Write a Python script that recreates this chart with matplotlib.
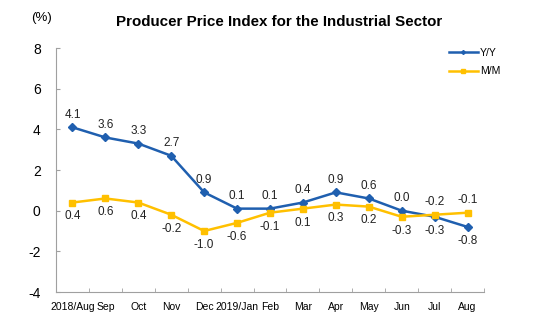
import matplotlib
matplotlib.use("Agg")
import matplotlib.pyplot as plt
import numpy as np

plt.rcParams['font.family'] = ['Liberation Sans', 'DejaVu Sans']
plt.rcParams['axes.unicode_minus'] = False

categories = ["2018/Aug", "Sep", "Oct", "Nov", "Dec", "2019/Jan", "Feb", "Mar",
              "Apr", "May", "Jun", "Jul", "Aug"]
yy = [4.1, 3.6, 3.3, 2.7, 0.9, 0.1, 0.1, 0.4, 0.9, 0.6, 0.0, -0.3, -0.8]
mm = [0.4, 0.6, 0.4, -0.2, -1.0, -0.6, -0.1, 0.1, 0.3, 0.2, -0.3, -0.2, -0.1]
yy_above = [True] * 11 + [False, False]
mm_above = [False] * 11 + [True, True]

blue = "#1F5FAF"
yellow = "#FFC000"

fig = plt.figure(figsize=(5.5, 3.32), dpi=100)
ax = fig.add_axes([56/550, 40/332, 428/550, 244/332])
x = np.arange(len(categories))
ax.plot(x, yy, color=blue, lw=1.8, marker='D', ms=4, label='Y/Y')
ax.plot(x, mm, color=yellow, lw=1.8, marker='s', ms=4.5, label='M/M')

for xi, v, up in zip(x, yy, yy_above):
    ax.annotate(f"{v:.1f}", (xi, v), xytext=(0, 9 if up else -10), textcoords='offset points',
                ha='center', va='center', fontsize=8.5, color='#222222')
for xi, v, up in zip(x, mm, mm_above):
    ax.annotate(f"{v:.1f}", (xi, v), xytext=(0, 9 if up else -10), textcoords='offset points',
                ha='center', va='center', fontsize=8.5, color='#222222')

ax.set_xlim(-0.5, len(categories) - 0.5)
ax.set_ylim(-4, 8)
ax.set_yticks([-4, -2, 0, 2, 4, 6, 8])
ax.set_xticks(x)
ax.set_xticklabels(categories, fontsize=7.5)
ax.set_xticks(np.arange(-0.5, len(categories), 1), minor=True)
ax.tick_params(axis='x', which='major', length=0, pad=7)
ax.tick_params(axis='x', which='minor', length=3, direction='in', color='#A0A0A0')
ax.tick_params(axis='y', length=3, direction='in', color='#A0A0A0', labelsize=10, pad=11)
for s in ['top', 'right']:
    ax.spines[s].set_visible(False)
for s in ['left', 'bottom']:
    ax.spines[s].set_color('#A0A0A0')
    ax.spines[s].set_linewidth(0.8)

leg = ax.legend(loc='upper right', bbox_to_anchor=(1.06, 1.04), frameon=False, fontsize=7.5,
                handlelength=2.8, labelspacing=0.85, handletextpad=0.2, markerscale=0.5)

fig.text(0.507, 0.934, "Producer Price Index for the Industrial Sector", ha='center', va='center',
         fontsize=10.9, fontweight='bold')
fig.text(0.076, 0.945, "(%)", ha='center', va='center', fontsize=9.5)

fig.savefig("out.png", dpi=100)
